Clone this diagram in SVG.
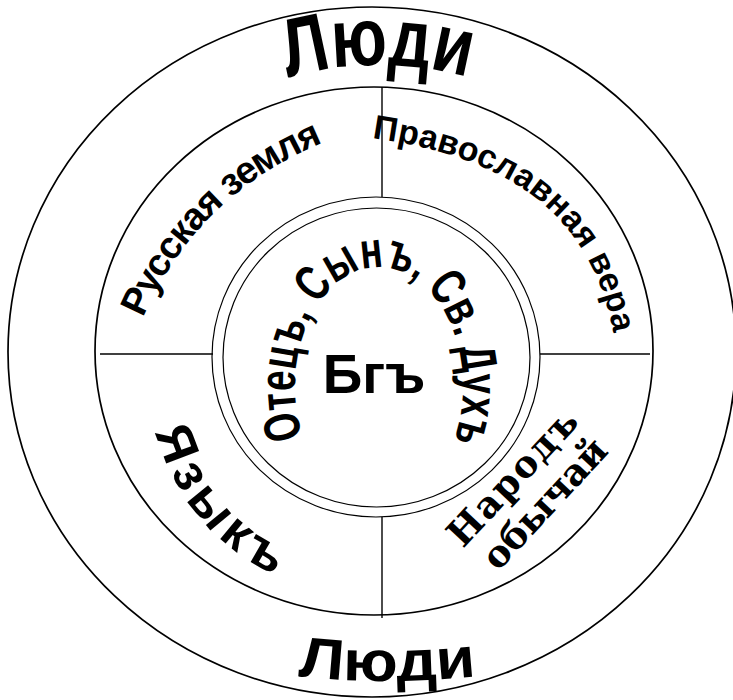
<svg xmlns="http://www.w3.org/2000/svg" width="733" height="700" viewBox="0 0 733 700">
<style>
.ring{fill:none;stroke:#000;stroke-width:1.7}
.thin{fill:none;stroke:#000;stroke-width:1.2}
.div{stroke:#000;stroke-width:1.4;fill:none}
.t{font-family:"Liberation Sans",Arial,sans-serif;font-weight:bold;fill:#000}
.s{font-family:"DejaVu Serif","Liberation Serif",serif;font-weight:bold;fill:#000}
</style>
<defs>
<path id="pTop" d="M 288,78 A 330,330 0 0,1 470,78"/>
<path id="pBot" d="M 298,676 Q 387,686 477,676"/>
<path id="pRus" d="M 143,318 Q 196,196 320,144"/>
<path id="pPrav" d="M 372,138 C 501,156 591,208 614,336"/>
<path id="pTrin" d="M 303,437 A 84,119 0 1,1 455,437"/>
<path id="pYaz" d="M 155,432 Q 186,534 277,576"/>
</defs>
<rect width="733" height="700" fill="#fff"/>
<g id="outer-ring"><ellipse class="ring" cx="372" cy="352" rx="364" ry="345"/></g>
<g id="middle-ring"><ellipse class="ring" cx="374" cy="351" rx="279" ry="264"/></g>
<g id="inner-ring">
<ellipse class="thin" cx="376" cy="357" rx="164" ry="160"/>
<ellipse class="thin" cx="376.5" cy="357.5" rx="153.5" ry="149.5"/>
</g>
<g id="connectors">
<line class="div" x1="382" y1="87" x2="382" y2="197"/>
<line class="div" x1="382" y1="517" x2="382" y2="618"/>
<line class="div" x1="100" y1="354" x2="213" y2="354"/>
<line class="div" x1="540" y1="354" x2="650" y2="354"/>
</g>
<g id="lyudi-top"><text class="t" font-size="82" textLength="182" lengthAdjust="spacingAndGlyphs"><textPath href="#pTop">Люди</textPath></text></g>
<g id="lyudi-bottom"><text class="t" font-size="57" textLength="179" lengthAdjust="spacingAndGlyphs"><textPath href="#pBot">Люди</textPath></text></g>
<g id="russkaya-zemlya"><text class="t" font-size="38" textLength="258"><textPath href="#pRus">Русская земля</textPath></text></g>
<g id="pravoslavnaya-vera"><text class="t" font-size="34" textLength="336"><textPath href="#pPrav">Православная вера</textPath></text></g>
<g id="trinity"><text class="t" font-size="51" textLength="428" lengthAdjust="spacingAndGlyphs"><textPath href="#pTrin">Отецъ, Сынъ, Св. Духъ</textPath></text></g>
<g id="bog"><text class="t" font-size="55" x="374" y="393" text-anchor="middle">Бгъ</text></g>
<g id="yazyk"><text class="t" font-size="51" textLength="192"><textPath href="#pYaz">Языкъ</textPath></text></g>
<g id="narod">
<text class="s" font-size="37" transform="translate(463,549) rotate(-47)" textLength="172">Народъ</text>
<text class="s" font-size="37" transform="translate(498,572) rotate(-47)" textLength="164">обычай</text>
</g>
</svg>
